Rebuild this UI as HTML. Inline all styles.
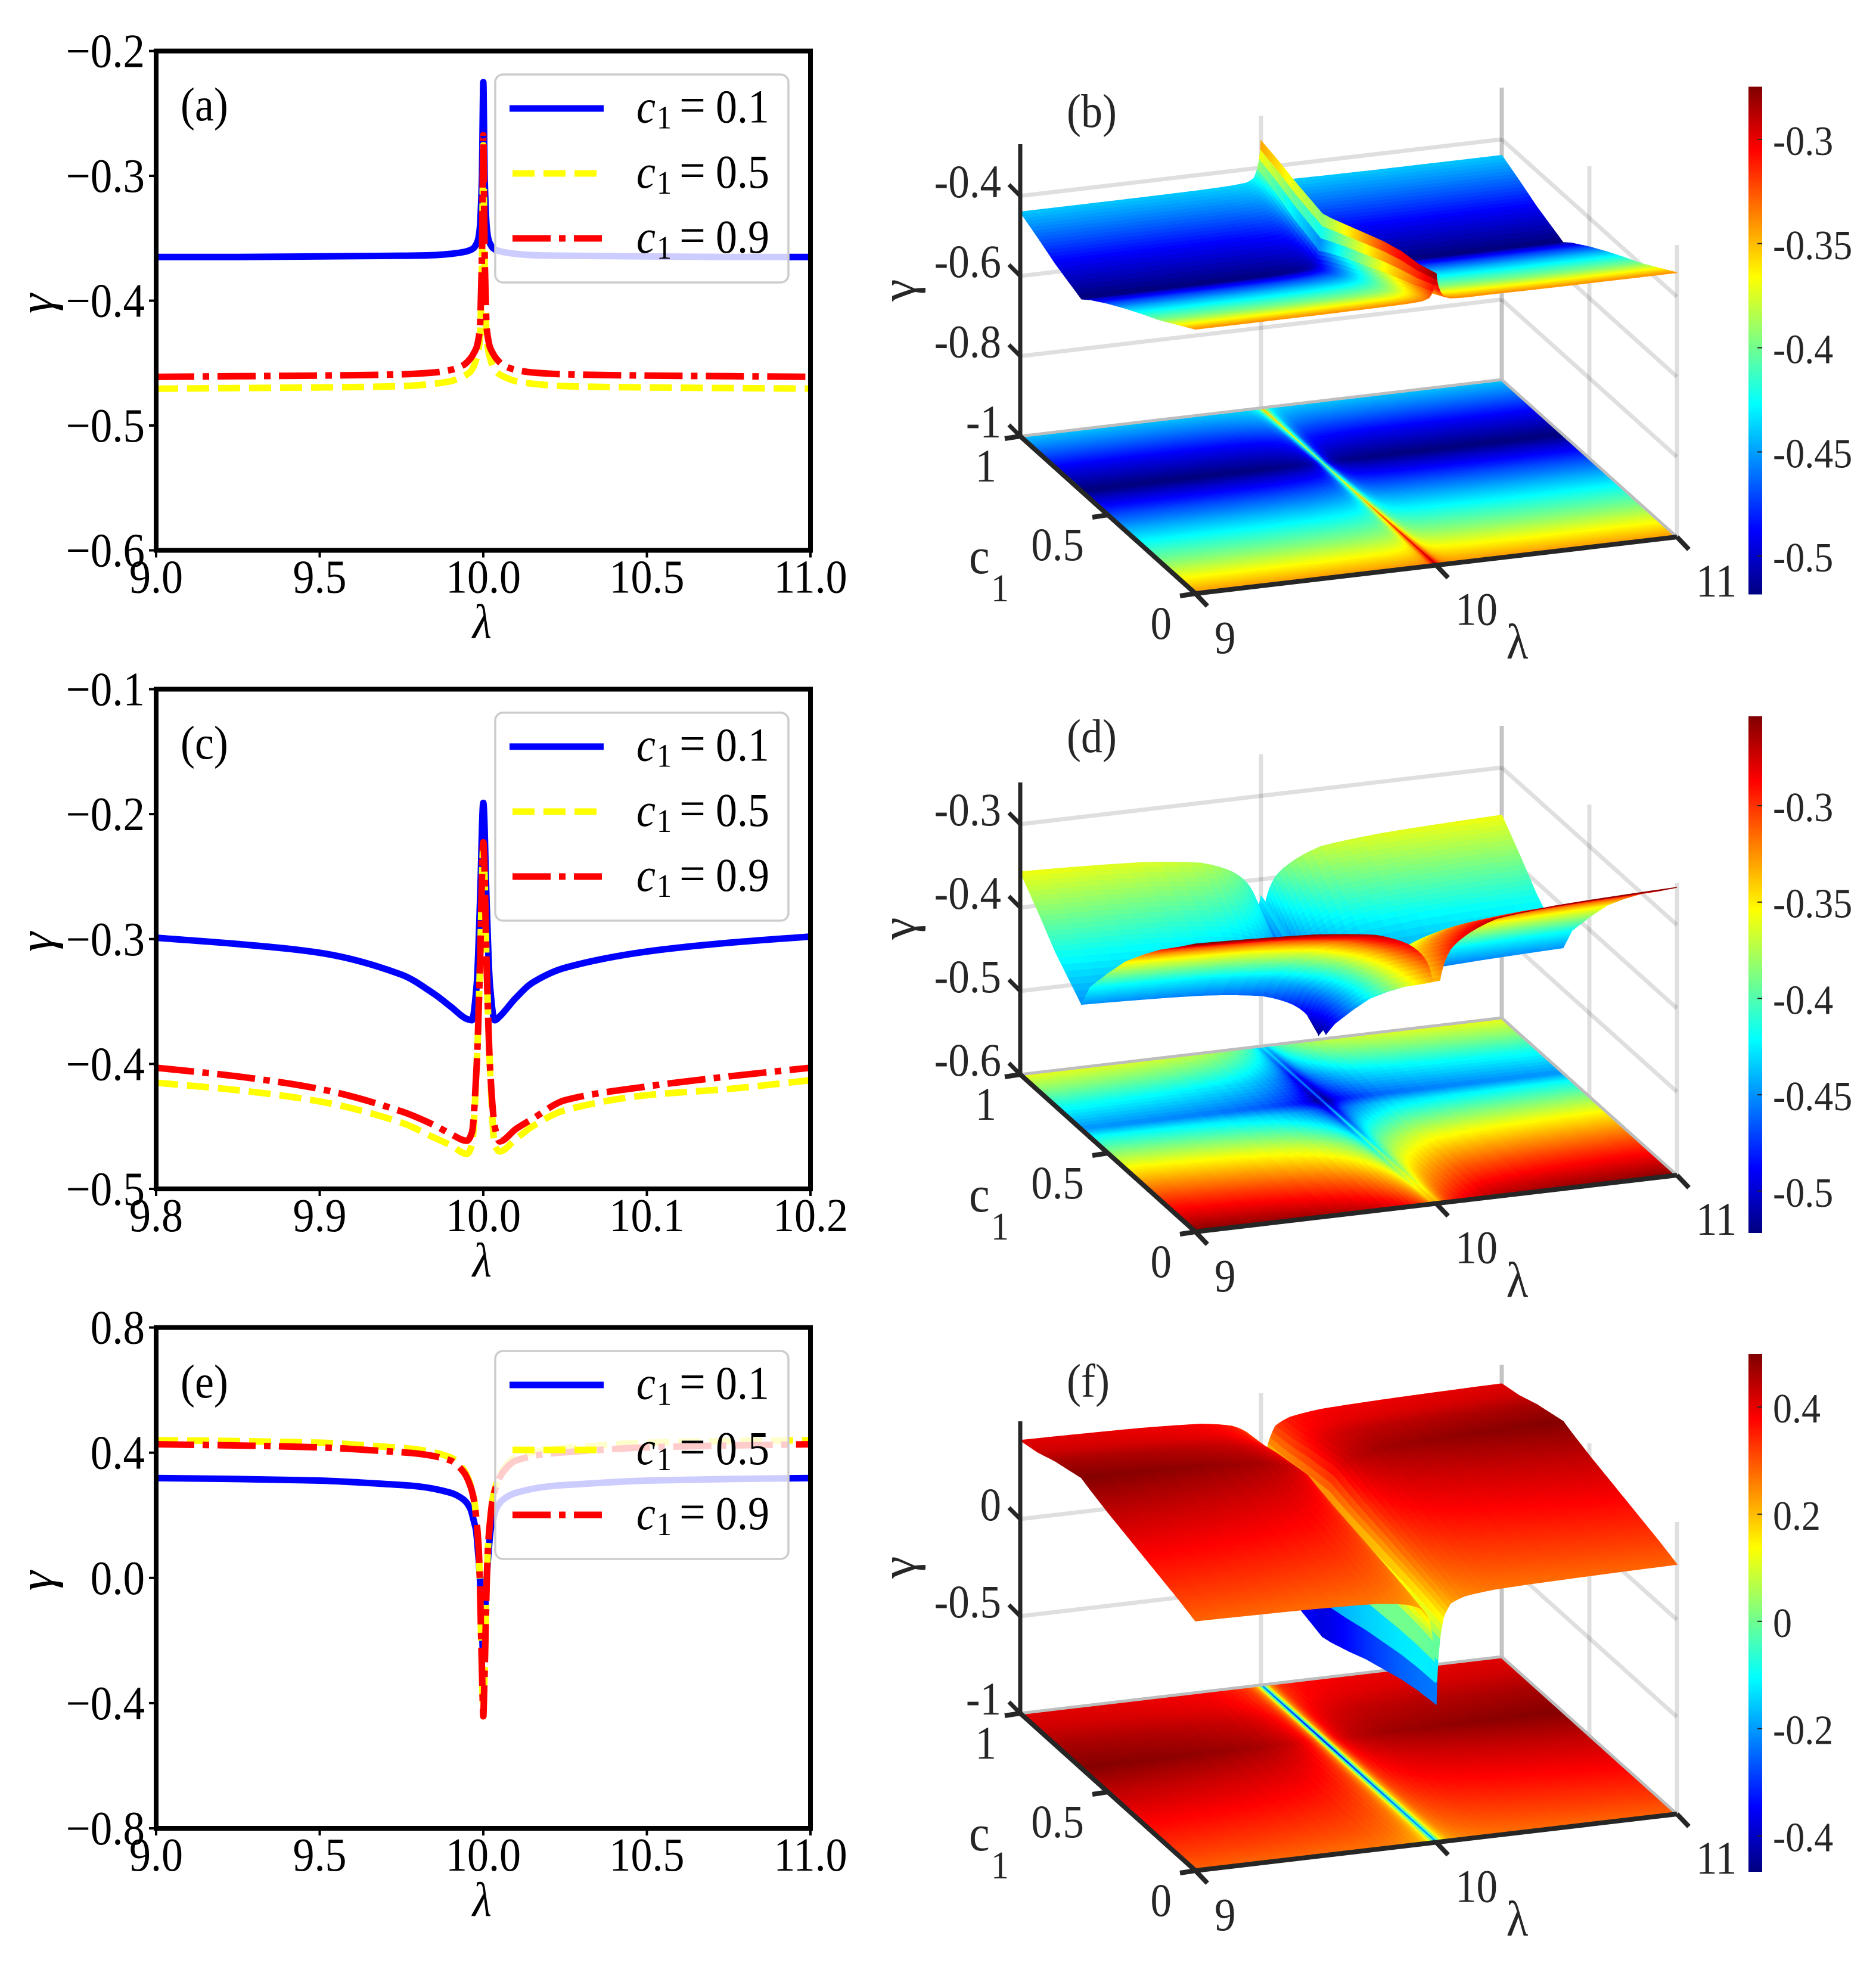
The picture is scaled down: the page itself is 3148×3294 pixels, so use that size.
<!DOCTYPE html>
<html lang="en">
<head>
<meta charset="utf-8">
<title>Gamma versus lambda and c1: line and surface panels</title>
<style>
html,body{margin:0;padding:0;background:#fff;}
svg{display:block;font-family:"Liberation Serif",serif;}
</style>
</head>
<body>
<svg id="figure" width="3148" height="3294" viewBox="0 0 3148 3294">
<defs>
<linearGradient id="jet-gradient" x1="0" y1="1" x2="0" y2="0">
<stop offset="0" stop-color="#000080"/>
<stop offset="0.125" stop-color="#0000ff"/>
<stop offset="0.375" stop-color="#00ffff"/>
<stop offset="0.625" stop-color="#ffff00"/>
<stop offset="0.875" stop-color="#ff0000"/>
<stop offset="1" stop-color="#800000"/>
</linearGradient>
<clipPath id="clip-a"><rect x="262" y="85.6" width="1098" height="837.9"/></clipPath>
<clipPath id="clip-c"><rect x="262" y="1156.5" width="1098" height="838.5"/></clipPath>
<clipPath id="clip-e"><rect x="262" y="2227.6" width="1098" height="840.4"/></clipPath>
</defs>

<rect x="0" y="0" width="3148" height="3294" fill="#fff"/>

<g id="panel-a">
  <g id="series-a" clip-path="url(#clip-a)"></g>
  <rect x="262" y="85.6" width="1098" height="837.9" fill="none" stroke="#000" stroke-width="8"/>
  <g>
    <rect x="831" y="125" width="492" height="349" rx="13" fill="#fff" fill-opacity="0.8" stroke="#ccc" stroke-width="3.5"/>
    <line x1="855" x2="1013" y1="182" y2="182" stroke="#0000ff" stroke-width="11"/>
    <line x1="860" x2="1003" y1="291" y2="291" stroke="#ffff00" stroke-width="11" stroke-dasharray="37 15"/>
    <line x1="860" x2="1010" y1="400" y2="400" stroke="#ff0000" stroke-width="11" stroke-dasharray="64 14 11 14"/>
    <text transform="translate(0,205.5) scale(1,1.1)" font-size="72"><tspan x="1068" y="0" font-style="italic">c</tspan><tspan x="1102" y="9" font-size="50">1</tspan><tspan x="1140" y="0" font-size="78">=</tspan><tspan x="1201" y="0">0.1</tspan></text>
    <text transform="translate(0,315) scale(1,1.1)" font-size="72"><tspan x="1068" y="0" font-style="italic">c</tspan><tspan x="1102" y="9" font-size="50">1</tspan><tspan x="1140" y="0" font-size="78">=</tspan><tspan x="1201" y="0">0.5</tspan></text>
    <text transform="translate(0,424) scale(1,1.1)" font-size="72"><tspan x="1068" y="0" font-style="italic">c</tspan><tspan x="1102" y="9" font-size="50">1</tspan><tspan x="1140" y="0" font-size="78">=</tspan><tspan x="1201" y="0">0.9</tspan></text>
  </g>
  <text transform="translate(303,202) scale(1,1.1)" font-size="72">(a)</text>
  <g id="axes-a"></g>
</g>

<g id="panel-c">
  <g id="series-c" clip-path="url(#clip-c)"></g>
  <rect x="262" y="1156.5" width="1098" height="838.5" fill="none" stroke="#000" stroke-width="8"/>
  <g transform="translate(0,1070.9)">
    <rect x="831" y="125" width="492" height="349" rx="13" fill="#fff" fill-opacity="0.8" stroke="#ccc" stroke-width="3.5"/>
    <line x1="855" x2="1013" y1="182" y2="182" stroke="#0000ff" stroke-width="11"/>
    <line x1="860" x2="1003" y1="291" y2="291" stroke="#ffff00" stroke-width="11" stroke-dasharray="37 15"/>
    <line x1="860" x2="1010" y1="400" y2="400" stroke="#ff0000" stroke-width="11" stroke-dasharray="64 14 11 14"/>
    <text transform="translate(0,205.5) scale(1,1.1)" font-size="72"><tspan x="1068" y="0" font-style="italic">c</tspan><tspan x="1102" y="9" font-size="50">1</tspan><tspan x="1140" y="0" font-size="78">=</tspan><tspan x="1201" y="0">0.1</tspan></text>
    <text transform="translate(0,315) scale(1,1.1)" font-size="72"><tspan x="1068" y="0" font-style="italic">c</tspan><tspan x="1102" y="9" font-size="50">1</tspan><tspan x="1140" y="0" font-size="78">=</tspan><tspan x="1201" y="0">0.5</tspan></text>
    <text transform="translate(0,424) scale(1,1.1)" font-size="72"><tspan x="1068" y="0" font-style="italic">c</tspan><tspan x="1102" y="9" font-size="50">1</tspan><tspan x="1140" y="0" font-size="78">=</tspan><tspan x="1201" y="0">0.9</tspan></text>
  </g>
  <text transform="translate(303,1273) scale(1,1.1)" font-size="72">(c)</text>
  <g id="axes-c"></g>
</g>

<g id="panel-e">
  <g id="series-e" clip-path="url(#clip-e)"></g>
  <rect x="262" y="2227.6" width="1098" height="840.4" fill="none" stroke="#000" stroke-width="8"/>
  <g transform="translate(0,2142)">
    <rect x="831" y="125" width="492" height="349" rx="13" fill="#fff" fill-opacity="0.8" stroke="#ccc" stroke-width="3.5"/>
    <line x1="855" x2="1013" y1="182" y2="182" stroke="#0000ff" stroke-width="11"/>
    <line x1="860" x2="1003" y1="291" y2="291" stroke="#ffff00" stroke-width="11" stroke-dasharray="37 15"/>
    <line x1="860" x2="1010" y1="400" y2="400" stroke="#ff0000" stroke-width="11" stroke-dasharray="64 14 11 14"/>
    <text transform="translate(0,205.5) scale(1,1.1)" font-size="72"><tspan x="1068" y="0" font-style="italic">c</tspan><tspan x="1102" y="9" font-size="50">1</tspan><tspan x="1140" y="0" font-size="78">=</tspan><tspan x="1201" y="0">0.1</tspan></text>
    <text transform="translate(0,315) scale(1,1.1)" font-size="72"><tspan x="1068" y="0" font-style="italic">c</tspan><tspan x="1102" y="9" font-size="50">1</tspan><tspan x="1140" y="0" font-size="78">=</tspan><tspan x="1201" y="0">0.5</tspan></text>
    <text transform="translate(0,424) scale(1,1.1)" font-size="72"><tspan x="1068" y="0" font-style="italic">c</tspan><tspan x="1102" y="9" font-size="50">1</tspan><tspan x="1140" y="0" font-size="78">=</tspan><tspan x="1201" y="0">0.9</tspan></text>
  </g>
  <text transform="translate(303,2345) scale(1,1.1)" font-size="72">(e)</text>
  <g id="axes-e"></g>
</g>

<g id="panel-b">
  <text transform="translate(1790,213) scale(1,1.1)" font-size="72" fill="#262626">(b)</text>
</g>
<g id="panel-d">
  <text transform="translate(1790,1262) scale(1,1.1)" font-size="72" fill="#262626">(d)</text>
</g>
<g id="panel-f">
  <text transform="translate(1790,2344) scale(1,1.1)" font-size="72" fill="#262626">(f)</text>
</g>
</svg>

<script>
// ---------- line-chart data ----------
const lambdaA = [9,9.25,9.5,9.75,9.85,9.9,9.94,9.96,9.97,9.98,9.985,9.99,9.993,9.996,9.998,10,10.002,10.004,10.007,10.01,10.015,10.02,10.03,10.04,10.06,10.1,10.15,10.25,10.5,10.75,11];
const gammaA_c01 = [-0.365,-0.365,-0.3645,-0.364,-0.3635,-0.3625,-0.361,-0.3595,-0.358,-0.354,-0.35,-0.34,-0.324,-0.3,-0.258,-0.225,-0.258,-0.3,-0.324,-0.34,-0.35,-0.354,-0.358,-0.3595,-0.361,-0.3625,-0.3635,-0.364,-0.3645,-0.365,-0.365];
const gammaA_c05 = [-0.4705,-0.47,-0.4695,-0.4685,-0.4665,-0.4645,-0.4605,-0.457,-0.453,-0.4455,-0.4395,-0.4295,-0.4035,-0.3705,-0.3205,-0.2755,-0.3205,-0.3705,-0.4035,-0.4295,-0.4395,-0.4455,-0.453,-0.457,-0.4605,-0.4645,-0.4665,-0.4685,-0.4695,-0.47,-0.4705];
const gammaA_c09 = [-0.461,-0.4605,-0.46,-0.459,-0.4575,-0.4555,-0.4515,-0.4465,-0.4425,-0.437,-0.431,-0.421,-0.395,-0.361,-0.311,-0.2675,-0.311,-0.361,-0.395,-0.421,-0.431,-0.437,-0.4425,-0.4465,-0.4515,-0.4555,-0.4575,-0.459,-0.46,-0.4605,-0.461];
const xTicksA = [9,9.5,10,10.5,11];
const xLabelsA = ['9.0','9.5','10.0','10.5','11.0'];
const yTicksA = [-0.2,-0.3,-0.4,-0.5,-0.6];
const yLabelsA = ['\u22120.2','\u22120.3','\u22120.4','\u22120.5','\u22120.6'];

const lambdaC = [9.8,9.85,9.9,9.95,9.97,9.98,9.99,9.993,9.996,9.998,10,10.002,10.004,10.007,10.01,10.02,10.03,10.05,10.1,10.15,10.2];
const gammaC_c01 = [-0.299,-0.304,-0.311,-0.3285,-0.344,-0.354,-0.364,-0.365,-0.336,-0.27,-0.191,-0.27,-0.336,-0.365,-0.362,-0.347,-0.335,-0.323,-0.31,-0.303,-0.298];
const gammaC_c05 = [-0.415,-0.421,-0.43,-0.447,-0.459,-0.465,-0.472,-0.465,-0.4,-0.32,-0.227,-0.32,-0.4,-0.465,-0.47,-0.46,-0.45,-0.437,-0.425,-0.42,-0.413];
const gammaC_c09 = [-0.403,-0.41,-0.42,-0.438,-0.449,-0.456,-0.4615,-0.455,-0.4,-0.32,-0.2225,-0.32,-0.4,-0.45,-0.462,-0.452,-0.444,-0.429,-0.418,-0.41,-0.403];
const xTicksC = [9.8,9.9,10,10.1,10.2];
const xLabelsC = ['9.8','9.9','10.0','10.1','10.2'];
const yTicksC = [-0.1,-0.2,-0.3,-0.4,-0.5];
const yLabelsC = ['\u22120.1','\u22120.2','\u22120.3','\u22120.4','\u22120.5'];

const lambdaE = [9,9.25,9.5,9.7,9.8,9.9,9.94,9.96,9.973,9.9775,9.985,9.988,9.99,9.993,9.996,9.998,10,10.002,10.004,10.007,10.01,10.012,10.015,10.0225,10.027,10.04,10.06,10.1,10.2,10.3,10.5,10.75,11];
const gammaE_c01 = [0.319,0.316,0.311,0.3,0.2925,0.272,0.25,0.222,0.1735,0.154,0.07,0.028,-0.01,-0.07,-0.15,-0.22,-0.26,-0.22,-0.15,-0.07,-0.01,0.028,0.07,0.154,0.1735,0.222,0.25,0.272,0.2925,0.3,0.311,0.316,0.319];
const gammaE_c05 = [0.44,0.437,0.432,0.419,0.41,0.385,0.345,0.3,0.243,0.202,0.11,0.04,-0.03,-0.17,-0.3,-0.38,-0.44,-0.38,-0.3,-0.17,-0.03,0.04,0.11,0.202,0.243,0.3,0.345,0.385,0.41,0.419,0.432,0.437,0.44];
const gammaE_c09 = [0.427,0.423,0.417,0.405,0.397,0.375,0.338,0.295,0.24,0.2,0.11,0.04,-0.03,-0.17,-0.3,-0.38,-0.442,-0.38,-0.3,-0.17,-0.03,0.04,0.11,0.2,0.24,0.295,0.338,0.375,0.397,0.405,0.417,0.423,0.427];
const xTicksE = [9,9.5,10,10.5,11];
const xLabelsE = ['9.0','9.5','10.0','10.5','11.0'];
const yTicksE = [0.8,0.4,0,-0.4,-0.8];
const yLabelsE = ['0.8','0.4','0.0','\u22120.4','\u22120.8'];

// ---------- surface data: rows follow surfaceC1, columns follow surfaceLambda ----------
const surfaceLambda = [9,9.5,9.75,9.88,9.94,9.97,9.985,10,10.015,10.03,10.06,10.12,10.25,10.5,11];
const surfaceC1 = [0,0.1,0.2,0.3,0.4,0.5,0.6,0.65,0.8,0.9,1];

const gammaB = [
[-0.34,-0.34,-0.339,-0.338,-0.336,-0.33,-0.316,-0.272,-0.316,-0.33,-0.337,-0.339,-0.339,-0.34,-0.34],
[-0.368,-0.368,-0.367,-0.366,-0.363,-0.357,-0.34,-0.288,-0.34,-0.357,-0.364,-0.366,-0.367,-0.368,-0.368],
[-0.396,-0.396,-0.395,-0.393,-0.39,-0.382,-0.361,-0.295,-0.361,-0.382,-0.391,-0.394,-0.395,-0.396,-0.396],
[-0.42,-0.42,-0.419,-0.417,-0.413,-0.405,-0.382,-0.31,-0.382,-0.405,-0.415,-0.418,-0.419,-0.42,-0.42],
[-0.445,-0.445,-0.444,-0.442,-0.438,-0.429,-0.406,-0.33,-0.406,-0.429,-0.439,-0.443,-0.444,-0.445,-0.445],
[-0.472,-0.472,-0.471,-0.468,-0.465,-0.455,-0.429,-0.35,-0.429,-0.455,-0.466,-0.47,-0.471,-0.472,-0.472],
[-0.502,-0.502,-0.501,-0.498,-0.494,-0.483,-0.455,-0.37,-0.455,-0.483,-0.495,-0.499,-0.501,-0.502,-0.502],
[-0.52,-0.52,-0.519,-0.516,-0.511,-0.5,-0.47,-0.378,-0.47,-0.5,-0.513,-0.517,-0.519,-0.52,-0.52],
[-0.49,-0.49,-0.489,-0.486,-0.482,-0.472,-0.445,-0.36,-0.445,-0.472,-0.484,-0.487,-0.489,-0.49,-0.49],
[-0.464,-0.464,-0.463,-0.46,-0.457,-0.447,-0.422,-0.345,-0.422,-0.447,-0.458,-0.462,-0.463,-0.464,-0.464],
[-0.44,-0.44,-0.439,-0.437,-0.434,-0.425,-0.403,-0.333,-0.403,-0.425,-0.435,-0.438,-0.439,-0.44,-0.44]
];
const climB = [-0.5184,-0.2747];
const zTicksB = [-1,-0.8,-0.6,-0.4];
const zLabelsB = ['-1','-0.8','-0.6','-0.4'];
const barTicksB = [-0.3,-0.35,-0.4,-0.45,-0.5];
const barLabelsB = ['-0.3','-0.35','-0.4','-0.45','-0.5'];

const gammaD = [
[-0.255,-0.261,-0.27,-0.285,-0.3,-0.315,-0.333,-0.33,-0.333,-0.315,-0.297,-0.283,-0.267,-0.26,-0.255],
[-0.278,-0.284,-0.293,-0.308,-0.323,-0.338,-0.356,-0.345,-0.356,-0.338,-0.32,-0.306,-0.29,-0.283,-0.278],
[-0.3,-0.306,-0.315,-0.33,-0.345,-0.36,-0.378,-0.36,-0.378,-0.36,-0.342,-0.328,-0.312,-0.305,-0.3],
[-0.325,-0.331,-0.34,-0.355,-0.37,-0.385,-0.403,-0.375,-0.403,-0.385,-0.367,-0.353,-0.337,-0.33,-0.325],
[-0.352,-0.358,-0.367,-0.382,-0.397,-0.412,-0.43,-0.39,-0.43,-0.412,-0.394,-0.38,-0.364,-0.357,-0.352],
[-0.385,-0.391,-0.4,-0.415,-0.43,-0.445,-0.463,-0.41,-0.463,-0.445,-0.427,-0.413,-0.397,-0.39,-0.385],
[-0.42,-0.426,-0.435,-0.45,-0.465,-0.48,-0.498,-0.43,-0.498,-0.48,-0.462,-0.448,-0.432,-0.425,-0.42],
[-0.45,-0.456,-0.465,-0.48,-0.495,-0.51,-0.52,-0.44,-0.52,-0.51,-0.492,-0.478,-0.462,-0.455,-0.45],
[-0.415,-0.421,-0.43,-0.445,-0.46,-0.475,-0.493,-0.44,-0.493,-0.475,-0.457,-0.443,-0.427,-0.42,-0.415],
[-0.385,-0.391,-0.4,-0.415,-0.43,-0.445,-0.463,-0.43,-0.463,-0.445,-0.427,-0.413,-0.397,-0.39,-0.385],
[-0.357,-0.363,-0.372,-0.387,-0.402,-0.417,-0.435,-0.42,-0.435,-0.417,-0.399,-0.385,-0.369,-0.362,-0.357]
];
const climD = [-0.5217,-0.2536];
const zTicksD = [-0.6,-0.5,-0.4,-0.3];
const zLabelsD = ['-0.6','-0.5','-0.4','-0.3'];
const barTicksD = [-0.3,-0.35,-0.4,-0.45,-0.5];
const barLabelsD = ['-0.3','-0.35','-0.4','-0.45','-0.5'];

const gammaF = [
[0.285,0.276,0.265,0.242,0.21,0.153,0.044,-0.289,0.044,0.153,0.222,0.251,0.268,0.276,0.285],
[0.32,0.311,0.298,0.273,0.239,0.177,0.06,-0.3,0.06,0.177,0.252,0.283,0.301,0.311,0.32],
[0.35,0.34,0.327,0.3,0.263,0.196,0.069,-0.32,0.069,0.196,0.276,0.31,0.33,0.34,0.35],
[0.38,0.369,0.354,0.325,0.285,0.212,0.073,-0.35,0.073,0.212,0.3,0.336,0.358,0.369,0.38],
[0.41,0.398,0.382,0.351,0.307,0.228,0.078,-0.38,0.078,0.228,0.323,0.363,0.386,0.398,0.41],
[0.44,0.427,0.41,0.375,0.328,0.242,0.079,-0.42,0.079,0.242,0.345,0.388,0.414,0.427,0.44],
[0.475,0.461,0.442,0.405,0.354,0.261,0.084,-0.455,0.084,0.261,0.373,0.419,0.447,0.461,0.475],
[0.495,0.481,0.461,0.423,0.37,0.274,0.091,-0.467,0.091,0.274,0.389,0.437,0.466,0.481,0.495],
[0.46,0.447,0.429,0.394,0.346,0.258,0.09,-0.42,0.09,0.258,0.363,0.407,0.434,0.447,0.46],
[0.425,0.413,0.397,0.365,0.322,0.242,0.091,-0.37,0.091,0.242,0.338,0.377,0.401,0.413,0.425],
[0.405,0.394,0.379,0.35,0.309,0.236,0.096,-0.33,0.096,0.236,0.324,0.361,0.383,0.394,0.405]
];
const climF = [-0.467,0.4987];
const zTicksF = [-1,-0.5,0];
const zLabelsF = ['-1','-0.5','0'];
const barTicksF = [0.4,0.2,0,-0.2,-0.4];
const barLabelsF = ['0.4','0.2','0','-0.2','-0.4'];

const c1Ticks = [1,0.5,0];
const c1Labels = ['1','0.5','0'];
const lambdaTicks3d = [9,10,11];
const lambdaLabels3d = ['9','10','11'];

// ---------- drawing helpers ----------
const NS = 'http://www.w3.org/2000/svg';

function addLine(parent, name, x1, y1, x2, y2, stroke, width, opacity) {
  const n = document.createElementNS(NS, 'line');
  
  
  n.setAttribute('x1', x1);
  n.setAttribute('y1', y1);
  n.setAttribute('x2', x2);
  n.setAttribute('y2', y2);
  n.setAttribute('stroke', stroke);
  n.setAttribute('stroke-width', width);
  if (opacity !== undefined) n.setAttribute('stroke-opacity', opacity);
  parent.appendChild(n);
  return n;
}

function addText(parent, name, str, x, y, size, anchor, fill) {
  const n = document.createElementNS(NS, 'text');
  
  
  n.setAttribute('transform', 'translate(' + x + ',' + y + ') scale(1,1.1)');
  n.setAttribute('font-size', size);
  n.setAttribute('text-anchor', anchor);
  n.setAttribute('fill', fill);
  n.textContent = str;
  parent.appendChild(n);
  return n;
}

// smooth monotone curve through the plotted data points
function monotonePath(pts) {
  const n = pts.length;
  const slopes = [];
  for (let i = 0; i < n - 1; i++) {
    slopes.push((pts[i + 1][1] - pts[i][1]) / (pts[i + 1][0] - pts[i][0]));
  }
  const tangents = [slopes[0]];
  for (let i = 1; i < n - 1; i++) {
    const a = slopes[i - 1], b = slopes[i];
    tangents.push(a * b <= 0 ? 0 : 2 * a * b / (a + b));
  }
  tangents.push(slopes[n - 2]);
  let d = 'M' + pts[0][0].toFixed(2) + ' ' + pts[0][1].toFixed(2);
  for (let i = 0; i < n - 1; i++) {
    const h = (pts[i + 1][0] - pts[i][0]) / 3;
    d += 'C' + (pts[i][0] + h).toFixed(2) + ' ' + (pts[i][1] + tangents[i] * h).toFixed(2) + ' ' +
         (pts[i + 1][0] - h).toFixed(2) + ' ' + (pts[i + 1][1] - tangents[i + 1] * h).toFixed(2) + ' ' +
         pts[i + 1][0].toFixed(2) + ' ' + pts[i + 1][1].toFixed(2);
  }
  return d;
}

// ---------- line panels ----------
const linePanels = [
  {id:'a', left:262, right:1360, top:85.6, bottom:923.5, xMin:9, xMax:11, yMin:-0.6, yMax:-0.2,
   xs:lambdaA, blue:gammaA_c01, yellow:gammaA_c05, red:gammaA_c09,
   xTicks:xTicksA, xLabels:xLabelsA, yTicks:yTicksA, yLabels:yLabelsA},
  {id:'c', left:262, right:1360, top:1156.5, bottom:1995, xMin:9.8, xMax:10.2, yMin:-0.5, yMax:-0.1,
   xs:lambdaC, blue:gammaC_c01, yellow:gammaC_c05, red:gammaC_c09,
   xTicks:xTicksC, xLabels:xLabelsC, yTicks:yTicksC, yLabels:yLabelsC},
  {id:'e', left:262, right:1360, top:2227.6, bottom:3068, xMin:9, xMax:11, yMin:-0.8, yMax:0.8,
   xs:lambdaE, blue:gammaE_c01, yellow:gammaE_c05, red:gammaE_c09,
   xTicks:xTicksE, xLabels:xLabelsE, yTicks:yTicksE, yLabels:yLabelsE}
];

function drawLinePanel(p) {
  const xScale = v => p.left + (v - p.xMin) / (p.xMax - p.xMin) * (p.right - p.left);
  const yScale = v => p.bottom - (v - p.yMin) / (p.yMax - p.yMin) * (p.bottom - p.top);
  const seriesGroup = document.getElementById('series-' + p.id);
  const axesGroup = document.getElementById('axes-' + p.id);
  const defs = [
    {name:'line-c1-0.1', values:p.blue, color:'#0000ff', dash:null},
    {name:'line-c1-0.5', values:p.yellow, color:'#ffff00', dash:'37 15'},
    {name:'line-c1-0.9', values:p.red, color:'#ff0000', dash:'64 14 11 14'}
  ];
  defs.forEach(s => {
    const pts = s.values.map((v, i) => [xScale(p.xs[i]), yScale(v)]);
    const n = document.createElementNS(NS, 'path');
    
    
    n.setAttribute('d', monotonePath(pts));
    n.setAttribute('fill', 'none');
    n.setAttribute('stroke', s.color);
    n.setAttribute('stroke-width', 11);
    n.setAttribute('stroke-linejoin', 'round');
    if (s.dash) n.setAttribute('stroke-dasharray', s.dash);
    seriesGroup.appendChild(n);
  });
  p.xTicks.forEach((v, i) => {
    const x = xScale(v);
    addLine(axesGroup, 'x-tick', x, p.bottom, x, p.bottom + 12, '#000', 4);
    addText(axesGroup, 'x-tick-label', p.xLabels[i], x, p.bottom + 71, 72, 'middle', '#000');
  });
  p.yTicks.forEach((v, i) => {
    const y = yScale(v);
    addLine(axesGroup, 'y-tick', p.left - 12, y, p.left, y, '#000', 4);
    addText(axesGroup, 'y-tick-label', p.yLabels[i], 243, y + 27, 73, 'end', '#000');
  });
  const xt = addText(axesGroup, 'x-axis-title', '\u03bb', 809, p.bottom + 147, 74, 'middle', '#000');
  xt.setAttribute('font-style', 'italic');
  const yMid = (p.top + p.bottom) / 2 + 5;
  const yt = addText(axesGroup, 'y-axis-title', '\u03b3', 0, 0, 84, 'middle', '#000');
  yt.setAttribute('font-style', 'italic');
  yt.setAttribute('transform', 'translate(88,' + yMid + ') rotate(-90)');
}
linePanels.forEach(drawLinePanel);

// ---------- 3D surface panels ----------
const surfacePanels = [
  {id:'b', ox:1712, oy:732, k:672, zMin:-1, grid:gammaB, clim:climB, zTicks:zTicksB, zLabels:zLabelsB,
   barTop:145.5, barBottom:997.5, barTicks:barTicksB, barLabels:barLabelsB},
  {id:'d', ox:1712, oy:1803, k:1400, zMin:-0.6, grid:gammaD, clim:climD, zTicks:zTicksD, zLabels:zLabelsD,
   barTop:1202, barBottom:2069, barTicks:barTicksD, barLabels:barLabelsD},
  {id:'f', ox:1712, oy:2875, k:326, zMin:-1, grid:gammaF, clim:climF, zTicks:zTicksF, zLabels:zLabelsF,
   barTop:2272, barBottom:3141, barTicks:barTicksF, barLabels:barLabelsF}
];

function jet(t) {
  t = Math.max(0, Math.min(1, t));
  const c = v => Math.round(255 * Math.max(0, Math.min(1, v)));
  return 'rgb(' + c(1.5 - Math.abs(4 * t - 3)) + ',' + c(1.5 - Math.abs(4 * t - 2)) + ',' + c(1.5 - Math.abs(4 * t - 1)) + ')';
}

// columns are spaced logarithmically around the resonance at lambda = 10,
// so a quad's position between two columns follows the log distance
function lambdaBetween(lA, lB, f) {
  const e = 0.003;
  const side = (lA + lB) < 20 ? -1 : 1;
  const uA = Math.log(Math.abs(lA - 10) + e);
  const uB = Math.log(Math.abs(lB - 10) + e);
  return 10 + side * (Math.exp(uA + (uB - uA) * f) - e);
}

function drawSurfacePanel(p) {
  const root = document.getElementById('panel-' + p.id);
  const zTop = p.zMin + 490 / p.k;
  const projX = (lam, c1) => p.ox + (lam - 9) / 2 * 808 + (1 - c1) * 294;
  const projY = (lam, c1, z) => p.oy - (lam - 9) / 2 * 95 + (1 - c1) * 264 - (z - p.zMin) * p.k;
  const color = v => jet((v - p.clim[0]) / (p.clim[1] - p.clim[0]));

  // walls
  const wall = document.createElementNS(NS, 'g');
  
  
  root.appendChild(wall);
  p.zTicks.forEach(z => {
    if (z === p.zMin) return;
    addLine(wall, 'z-grid-line-back', projX(9,1), projY(9,1,z), projX(11,1), projY(11,1,z), '#262626', 7, 0.15);
    addLine(wall, 'z-grid-line-side', projX(11,1), projY(11,1,z), projX(11,0), projY(11,0,z), '#262626', 7, 0.15);
  });
  [[10,1,0.15],[11,1,0.27],[11,0.5,0.15],[11,0,0.15]].forEach(g => {
    addLine(wall, 'vertical-grid-line', projX(g[0],g[1]), projY(g[0],g[1],p.zMin), projX(g[0],g[1]), projY(g[0],g[1],zTop), '#262626', 7, g[2]);
  });

  // floor map and raised surface share one quad routine
  const floor = document.createElementNS(NS, 'g');
  
  
  root.appendChild(floor);
  const surf = document.createElementNS(NS, 'g');
  
  

  const rowSub = 8;
  const colSubs = [6,4,4,3,3,3,3,3,3,3,3,4,4,6];
  const valueAt = (ri, rf, ci, cf) => {
    const a = p.grid[ri][ci], b = p.grid[ri][ci + 1], c = p.grid[ri + 1][ci], d = p.grid[ri + 1][ci + 1];
    return (a * (1 - cf) + b * cf) * (1 - rf) + (c * (1 - cf) + d * cf) * rf;
  };
  const paintQuad = (ri, r0, r1, ci, c0, c1, useFloor, parent) => {
    const cA = surfaceC1[ri], cB = surfaceC1[ri + 1];
    const lA = surfaceLambda[ci], lB = surfaceLambda[ci + 1];
    const corners = [[r0,c0],[r0,c1],[r1,c1],[r1,c0]];
    let sum = 0;
    const pts = corners.map(q => {
      const v = valueAt(ri, q[0], ci, q[1]);
      sum += v;
      const cc = cA + (cB - cA) * q[0];
      const ll = lambdaBetween(lA, lB, q[1]);
      return projX(ll, cc).toFixed(1) + ',' + projY(ll, cc, useFloor ? p.zMin : v).toFixed(1);
    }).join(' ');
    const col = color(sum / 4);
    const n = document.createElementNS(NS, 'polygon');
    
    
    n.setAttribute('points', pts);
    n.setAttribute('fill', col);
    n.setAttribute('stroke', col);
    n.setAttribute('stroke-width', 1.3);
    parent.appendChild(n);
  };
  // paint far to near: c1 from 1 to 0, lambda from 11 to 9
  for (let ri = surfaceC1.length - 2; ri >= 0; ri--) {
    for (let rs = rowSub - 1; rs >= 0; rs--) {
      const r0 = rs / rowSub, r1 = (rs + 1) / rowSub;
      for (let ci = surfaceLambda.length - 2; ci >= 0; ci--) {
        const m = colSubs[ci];
        for (let cs = m - 1; cs >= 0; cs--) {
          paintQuad(ri, r0, r1, ci, cs / m, (cs + 1) / m, true, floor);
          paintQuad(ri, r0, r1, ci, cs / m, (cs + 1) / m, false, surf);
        }
      }
    }
  }
  addLine(root, 'floor-edge-back', projX(9,1), projY(9,1,p.zMin), projX(11,1), projY(11,1,p.zMin), '#bdbdbd', 5);
  addLine(root, 'floor-edge-side', projX(11,1), projY(11,1,p.zMin), projX(11,0), projY(11,0,p.zMin), '#bdbdbd', 5);
  root.appendChild(surf);

  // axes
  const ax = document.createElementNS(NS, 'g');
  
  
  root.appendChild(ax);
  const ink = '#262626';
  addLine(ax, 'z-axis', projX(9,1), projY(9,1,p.zMin), projX(9,1), projY(9,1,zTop), ink, 7);
  addLine(ax, 'c1-axis', projX(9,1), projY(9,1,p.zMin), projX(9,0), projY(9,0,p.zMin), ink, 8);
  addLine(ax, 'lambda-axis', projX(9,0), projY(9,0,p.zMin), projX(11,0), projY(11,0,p.zMin), ink, 8);
  p.zTicks.forEach((z, i) => {
    const x = projX(9,1), y = projY(9,1,z);
    addLine(ax, 'z-tick', x, y, x - 19, y - 19, ink, 7);
    addText(ax, 'z-tick-label', p.zLabels[i], 1680, y + 2, 71, 'end', ink);
  });
  c1Ticks.forEach((c, i) => {
    const x = projX(9,c), y = projY(9,c,p.zMin);
    addLine(ax, 'c1-tick', x, y, x - 26, y + 4, ink, 8);
    addText(ax, 'c1-tick-label', c1Labels[i], x - 40, y + 76, 71, 'end', ink);
  });
  lambdaTicks3d.forEach((l, i) => {
    const x = projX(l,0), y = projY(l,0,p.zMin);
    addLine(ax, 'lambda-tick', x, y, x + 20, y + 21, ink, 8);
    addText(ax, 'lambda-tick-label', lambdaLabels3d[i], x + 32, y + 100, 71, 'start', ink);
  });
  const g = addText(ax, 'z-axis-title', '\u03b3', 0, 0, 84, 'middle', ink);
  g.setAttribute('transform', 'translate(' + (p.ox - 177) + ',' + (p.oy - 245) + ') rotate(-90)');
  addText(ax, 'c1-axis-title', 'c', p.ox - 86, p.oy + 230, 78, 'start', ink);
  addText(ax, 'c1-axis-subscript', '1', p.ox - 49, p.oy + 277, 60, 'start', ink);
  addText(ax, 'lambda-axis-title', '\u03bb', projX(9,0) + 540, projY(9,0,p.zMin) + 109, 76, 'middle', ink);

  // colorbar
  const bar = document.createElementNS(NS, 'g');
  
  
  root.appendChild(bar);
  const r = document.createElementNS(NS, 'rect');
  
  
  r.setAttribute('x', 2934);
  r.setAttribute('y', p.barTop);
  r.setAttribute('width', 23);
  r.setAttribute('height', p.barBottom - p.barTop);
  r.setAttribute('fill', 'url(#jet-gradient)');
  bar.appendChild(r);
  const barY = v => p.barBottom - (v - p.clim[0]) / (p.clim[1] - p.clim[0]) * (p.barBottom - p.barTop);
  p.barTicks.forEach((v, i) => {
    const y = barY(v);
    addLine(bar, 'colorbar-tick', 2949, y, 2957, y, ink, 2);
    addText(bar, 'colorbar-tick-label', p.barLabels[i], 2975, y + 26, 64, 'start', ink);
  });
}
surfacePanels.forEach(drawSurfacePanel);
</script>
</body>
</html>
